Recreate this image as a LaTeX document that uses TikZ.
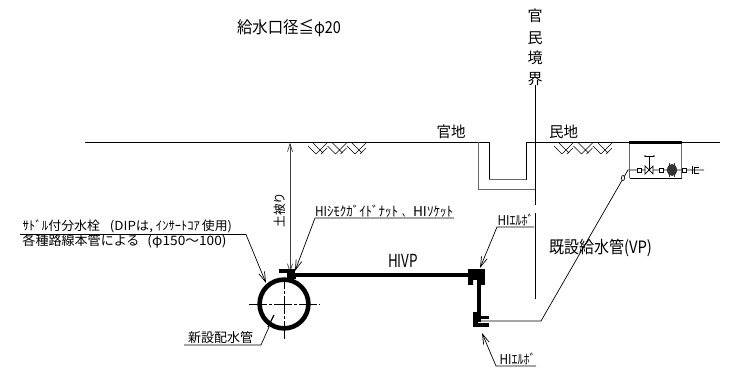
\documentclass[tikz,border=0pt]{standalone}
\usepackage{fontspec}
\setmainfont{Noto Sans CJK JP}
\usetikzlibrary{arrows.meta}
\newsavebox{\lblbox}
\newlength{\lblw}
\newcommand{\lbl}[3]{{\fontsize{#2}{#2}\selectfont\sbox{\lblbox}{#3}\lblw=\wd\lblbox
 \pgfmathsetmacro{\lblsx}{#1/(\lblw/1pt)}\scalebox{\lblsx}[1]{\usebox{\lblbox}}}}
\tikzset{
 thin line/.style={line width=0.7pt,draw=black},
 gray line/.style={line width=1pt,draw=black!60},
 pipe/.style={line width=3.6pt,draw=black},
 leader/.style={line width=0.7pt,draw=black,-{Straight Barb[length=10pt,width=6pt]}},
 txt/.style={inner sep=0pt,outer sep=0pt,text=black,anchor=base west},
 vtxt/.style={inner sep=0pt,outer sep=0pt,text=black,font=\fontsize{15}{15}\selectfont},
 center line/.style={line width=0.6pt,draw=black,dash pattern=on 18pt off 2pt on 3pt off 2pt}
}
\begin{document}
\begin{tikzpicture}[x=1pt,y=-1pt]
\useasboundingbox (0,0) rectangle (731,371);
\fill[white] (0,0) rectangle (731,371);
% ground
\draw[thin line] (85,142.5) -- (489,142.5) -- (489,180);
\draw[gray line] (489,180) -- (526,180);
\draw[thin line] (526,180) -- (526,142.5) -- (720,142.5);
\draw[gray line] (478,142.5) -- (478,190) -- (536,190);
% boundary
\draw[thin line] (535.5,85) -- (535.5,205.5);
\draw[thin line] (535.5,213) -- (535.5,299);
% earth hatching
\foreach \gx in {308,554}{
 \foreach \hx in {0,19.5,39}{
  \draw[line width=0.6pt] (\gx+\hx,146) -- (\gx+\hx+8,154)
    (\gx+\hx+5,143) -- (\gx+\hx+15,153)
    (\gx+\hx+8,154) -- (\gx+\hx+19,143)
    (\gx+\hx+13,154) -- (\gx+\hx+19,148);
 }
}
% cover dimension
\coordinate (covtop) at (290,142.5);
\coordinate (covbot) at (290,273);
\draw[line width=0.7pt,draw=black!75,{Straight Barb[length=8pt,width=5pt]}-{Straight Barb[length=8pt,width=5pt]}] (covtop) -- (covbot);
% main pipe circle
\coordinate (cc) at (284,304);
\draw[line width=4.6pt] (cc) circle (24.4);
\draw[center line] (249,304) -- (320,304);
\draw[center line] (284,339) -- (284,280);
% saddle and HIVP
\fill (279,269) rectangle (295,273.5);
\fill (287,273) rectangle (296,279);
\draw[pipe] (290,275) -- (470,275);
% upper elbow
\fill (468,269) rectangle (484,277);
\fill (468,277) -- (478,277) -- (478,280) -- (473,280) -- (473,285) -- (468,285) -- cycle;
\fill (481,269) rectangle (484.5,285);
\draw[pipe] (479,272) -- (479,322);
% lower elbow
\fill (473,312) rectangle (477.5,327);
\fill (473,323) rectangle (489,327);
\fill (481,316) rectangle (488.5,319);
% existing pipe
\coordinate (vpa) at (477,321);
\coordinate (vpb) at (541,321);
\coordinate (vpc) at (628,170);
\coordinate (vpd) at (704,170);
\draw[line width=0.7pt] (vpa) -- (vpb) -- (vpc) -- (vpd);
% meter box
\draw[gray line] (629.5,142) -- (629.5,178);
\draw[gray line] (681.5,142) -- (681.5,178);
\draw[line width=0.8pt] (629.5,178) -- (681.5,178);
\fill (629,141) rectangle (682,144);
\draw[line width=0.6pt,fill=white] (623,178) ellipse (1.6 and 2.6);
\foreach \qx in {639,661,684}{\draw[line width=0.6pt,fill=white] (\qx-2,168) rectangle (\qx+2,172);}
\draw[line width=0.7pt,fill=white] (645,166) -- (653,174) -- (653,166) -- (645,174) -- cycle;
\draw[line width=0.7pt] (649,170) -- (649,156) (645,156) -- (654,156);
\fill (645,156) circle (0.9) (654,156) circle (0.9);
\fill[black!80] (672,170) ellipse (5 and 6);
\draw[line width=1pt,black!80] (669.5,163) -- (669.5,177) (674.5,163) -- (674.5,177);
\draw[line width=0.7pt] (692,166) -- (692,174) (699,167) -- (694,167) -- (694,173) -- (699,173);
% leaders
\coordinate (sa0) at (20,234.5);
\coordinate (sa1) at (246,234.5);
\coordinate (sa2) at (266,283);
\draw[leader] (sa0) -- (sa1) -- (sa2);
\coordinate (ne0) at (184,345);
\coordinate (ne1) at (261,345);
\coordinate (ne2) at (269,327);
\draw[line width=0.7pt] (ne0) -- (ne1) -- (ne2);
\draw[line width=1.3pt] (268,327) -- (274,315);
\coordinate (hs0) at (454,218);
\coordinate (hs1) at (315,218);
\coordinate (hs2) at (295,271);
\draw[leader] (hs0) -- (hs1) -- (hs2);
\coordinate (he0) at (534,227);
\coordinate (he1) at (497,227);
\coordinate (he2) at (480,268);
\draw[leader] (he0) -- (he1) -- (he2);
\coordinate (hl0) at (536,366);
\coordinate (hl1) at (496,366);
\coordinate (hl2) at (482,333);
\draw[leader] (hl0) -- (hl1) -- (hl2);
% texts
\node[txt] (t1) at (237,34) {\lbl{77}{16.5}{給水口径≦}\lbl{27}{16.5}{φ20}};
\node[vtxt] (v1) at (535,16) {官};
\node[vtxt] (v2) at (535,38) {民};
\node[vtxt] (v3) at (535,58) {境};
\node[vtxt] (v4) at (535,79) {界};
\node[txt] (t2) at (436.5,138) {\lbl{29}{15}{官地}};
\node[txt] (t3) at (549,138) {\lbl{29}{15}{民地}};
\node[inner sep=0pt,outer sep=0pt,rotate=90] (t4) at (279.5,210) {\lbl{35}{12.5}{土被り}};
\node[txt] (t5) at (388,268) {\lbl{30}{18}{HIVP}};
\node[txt] (t6) at (549,254) {\lbl{75}{17}{既設給水管}\lbl{28}{17}{(VP)}};
\node[txt] (t7) at (22.5,231) {\lbl{77.5}{12.5}{ｻﾄﾞﾙ付分水栓}\hspace{10pt}\lbl{43}{12.5}{(DIPは,}\hspace{3pt}\lbl{44}{12.5}{ｲﾝｻｰﾄｺｱ}\hspace{2pt}\lbl{30}{12.5}{使用)}};
\node[txt] (t8) at (22.5,246) {\lbl{117}{13}{各種路線本管による}\hspace{8pt}\lbl{79}{13}{(φ150〜100)}};
\node[txt] (t9) at (188,343) {\lbl{65}{13}{新設配水管}};
\node[txt] (t10) at (315,216.5) {\lbl{12}{13.5}{HI}\lbl{71}{13.5}{ｼﾓｸｶﾞｲﾄﾞﾅｯﾄ}\hspace{4pt}\lbl{8}{13.5}{、}\hspace{3pt}\lbl{14}{13.5}{HI}\lbl{26}{13.5}{ｿｹｯﾄ}};
\node[txt] (t11) at (497.5,225.5) {\lbl{12}{13.5}{HI}\lbl{24}{13.5}{ｴﾙﾎﾞ}};
\node[txt] (t12) at (499.5,364) {\lbl{12}{13.5}{HI}\lbl{24}{13.5}{ｴﾙﾎﾞ}};
\end{tikzpicture}
\end{document}
